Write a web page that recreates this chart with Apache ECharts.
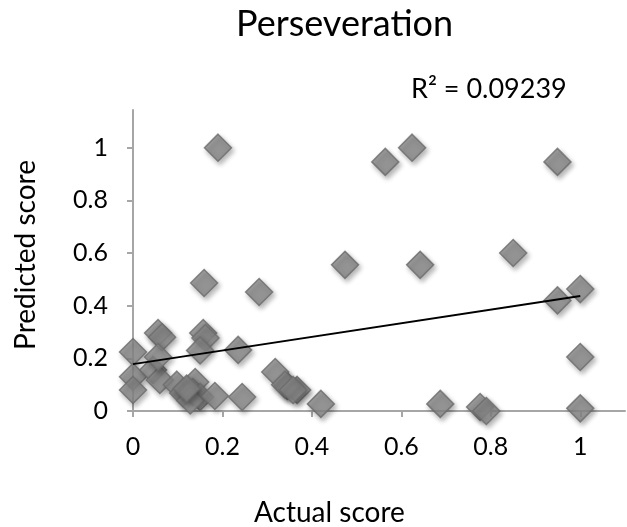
<!DOCTYPE html>
<html>
<head>
<meta charset="utf-8">
<script src="https://cdn.jsdelivr.net/npm/echarts@6/dist/echarts.min.js"></script>
<style>html,body{margin:0;padding:0;background:#fff}#c{width:627px;height:527px}</style>
</head>
<body>
<div id="c"></div>
<script>
var titleText = "Perseveration";
var xName = "Actual score";
var yName = "Predicted score";
var r2Text = "R\u00B2 = 0.09239";
var xTicks = [0, 0.2, 0.4, 0.6, 0.8, 1];
var yTicks = [0, 0.2, 0.4, 0.6, 0.8, 1];
var actual = [0.19, 0.564, 0.624, 0.949, 0.474, 0.642, 0.85, 0.282, 0.159, 0.949, 1.0, 1.0, 1.0,
  0.687, 0.776, 0.79, 0.42, 0.367, 0.345,
  0.0, 0.056, 0.065, 0.157, 0.162, 0.15, 0.235, 0.0, 0.0, 0.045, 0.06, 0.056,
  0.098, 0.112, 0.139, 0.134, 0.15, 0.128, 0.183, 0.244, 0.318, 0.34, 0.358, 0.12];
var predicted = [1.0, 0.946, 1.0, 0.946, 0.555, 0.555, 0.60, 0.452, 0.486, 0.42, 0.463, 0.205, 0.01,
  0.027, 0.015, 0.0, 0.027, 0.08, 0.095,
  0.224, 0.296, 0.28, 0.296, 0.277, 0.23, 0.232, 0.13, 0.08, 0.156, 0.118, 0.205,
  0.1, 0.068, 0.11, 0.072, 0.053, 0.04, 0.057, 0.053, 0.148, 0.1, 0.08, 0.085];
var trendX = [0, 1];
var trendY = [0.178, 0.437];

var pts = actual.map(function (x, i) { return [x, predicted[i]]; });
var trend = trendX.map(function (x, i) { return [x, trendY[i]]; });
var font = "Lato, 'Open Sans', sans-serif";
var chart = echarts.init(document.getElementById('c'), null, {renderer: 'canvas'});
chart.setOption({
  animation: false,
  backgroundColor: '#ffffff',
  graphic: [{
    type: 'text', left: 236, top: 6,
    style: {text: titleText, font: "36px Lato, 'Open Sans', sans-serif", fill: '#000'}
  }, {
    type: 'text', left: 411, top: 76,
    style: {text: r2Text, font: "27px Lato, 'Open Sans', sans-serif", fill: '#000'}
  }, {
    type: 'text', left: 254, top: 499,
    style: {text: xName, font: "28px Lato, 'Open Sans', sans-serif", fill: '#000'}
  }, {
    type: 'text', x: 26, y: 255, rotation: Math.PI / 2,
    style: {text: yName, font: "28px Lato, 'Open Sans', sans-serif", fill: '#000',
      align: 'center', verticalAlign: 'middle'}
  }],
  grid: {left: 133, right: 2, top: 110, bottom: 116, containLabel: false},
  xAxis: {
    type: 'value', min: 0, max: 1.1,
    axisLine: {show: true, onZero: false, lineStyle: {color: '#a6a6a6', width: 2}},
    axisTick: {show: true, length: 6, lineStyle: {color: '#a6a6a6', width: 2}, customValues: xTicks},
    axisLabel: {fontFamily: font, fontSize: 25, color: '#000', margin: 23, customValues: xTicks,
      formatter: function (v) { return String(v); }},
    splitLine: {show: false}
  },
  yAxis: {
    type: 'value', min: 0, max: 1.143,
    axisLine: {show: true, onZero: false, lineStyle: {color: '#a6a6a6', width: 2}},
    axisTick: {show: true, length: 6, lineStyle: {color: '#a6a6a6', width: 2}, customValues: yTicks},
    axisLabel: {fontFamily: font, fontSize: 25, color: '#000', margin: 25, customValues: yTicks,
      formatter: function (v) { return String(v); }},
    splitLine: {show: false}
  },
  series: [{
    type: 'scatter', data: pts, symbol: 'diamond', symbolSize: 27, z: 2,
    itemStyle: {color: '#8a8a8a', borderColor: '#6b6b6b', borderWidth: 1.5,
      shadowBlur: 5, shadowOffsetX: 2, shadowOffsetY: 3, shadowColor: 'rgba(0,0,0,0.35)'}
  }, {
    type: 'line', data: trend, symbol: 'none', z: 5,
    lineStyle: {color: '#000', width: 2}
  }]
});
</script>
</body>
</html>
